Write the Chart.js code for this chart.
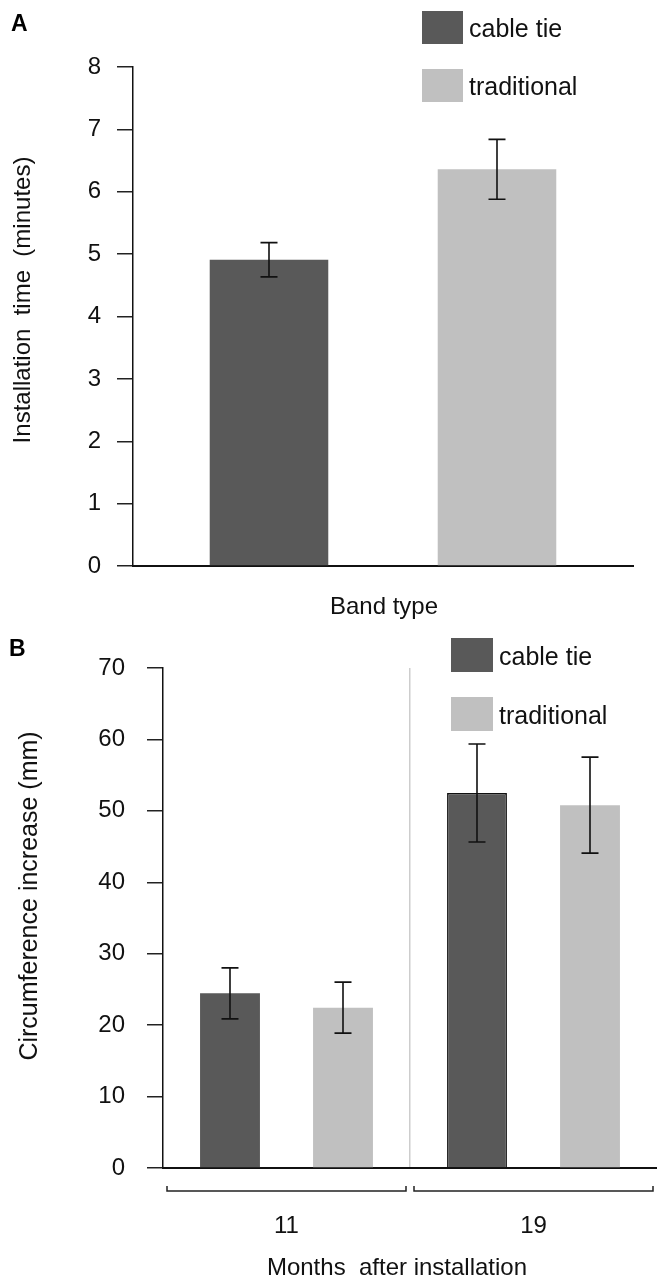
<!DOCTYPE html>
<html>
<head>
<meta charset="utf-8">
<script src="https://cdn.jsdelivr.net/npm/chart.js@4.4.1/dist/chart.umd.min.js"></script>
<style>
  html, body { margin: 0; padding: 0; background: #fff; }
  #wrap { position: relative; width: 657px; height: 1280px; background: #fff; }
  canvas { position: absolute; left: 0; }
</style>
</head>
<body>
<div id="wrap">
  <canvas id="chartA" width="657" height="630" style="top:0"></canvas>
  <canvas id="chartB" width="657" height="650" style="top:630px"></canvas>
</div>
<script>
// ---------- data ----------
const seriesNames = ['cable tie', 'traditional'];
const seriesColors = ['#595959', '#c0c0c0'];

// Panel A: installation time (minutes)
const bandCategories = [''];
const installCableTie = [4.91];
const installCableTieErr = [0.275];
const installTraditional = [6.36];
const installTraditionalErr = [0.48];

// Panel B: circumference increase (mm)
const monthCategories = ['11', '19'];
const circCableTie = [24.45, 52.5];
const circCableTieErr = [3.57, 6.86];
const circTraditional = [22.45, 50.8];
const circTraditionalErr = [3.57, 6.72];

// ---------- common ----------
const FONT = '"Liberation Sans", Arial, sans-serif';
Chart.defaults.font.family = FONT;
Chart.defaults.color = '#111';

function decorPlugin(cfg) {
  return {
    id: 'decor',
    afterDatasetsDraw(chart) {
      const ctx = chart.ctx, ys = chart.scales.y;
      ctx.save();
      ctx.strokeStyle = '#111';
      ctx.lineWidth = 1.6;
      chart.data.datasets.forEach((ds, i) => {
        const meta = chart.getDatasetMeta(i);
        meta.data.forEach((bar, j) => {
          const v = ds.data[j], e = ds.err[j];
          const yT = ys.getPixelForValue(v + e), yB = ys.getPixelForValue(v - e);
          const cw = 8.5;
          ctx.beginPath();
          ctx.moveTo(bar.x, yT); ctx.lineTo(bar.x, yB);
          ctx.moveTo(bar.x - cw, yT); ctx.lineTo(bar.x + cw, yT);
          ctx.moveTo(bar.x - cw, yB); ctx.lineTo(bar.x + cw, yB);
          ctx.stroke();
        });
      });
      ctx.restore();
    },
    afterDraw(chart) {
      const ctx = chart.ctx;
      ctx.save();
      // legend
      const L = cfg.legend;
      chart.data.datasets.forEach((ds, i) => {
        const top = L.y + i * L.step;
        ctx.fillStyle = ds.backgroundColor;
        ctx.fillRect(L.x, top, L.w, L.h);
        ctx.fillStyle = '#111';
        ctx.font = '25px ' + FONT;
        ctx.textAlign = 'left';
        ctx.textBaseline = 'middle';
        ctx.fillText(ds.label, L.x + L.w + 6, top + L.h / 2 + 3);
      });
      // panel letter
      ctx.fillStyle = '#000';
      ctx.font = 'bold 23px ' + FONT;
      ctx.textAlign = 'left';
      ctx.textBaseline = 'alphabetic';
      ctx.fillText(cfg.letter.text, cfg.letter.x, cfg.letter.y);
      // x title
      ctx.fillStyle = '#111';
      ctx.font = '24px ' + FONT;
      ctx.textAlign = 'center';
      ctx.fillText(cfg.xTitle.text, cfg.xTitle.x, cfg.xTitle.y);
      // y title
      ctx.save();
      ctx.font = cfg.yTitle.size + 'px ' + FONT;
      ctx.translate(cfg.yTitle.x, cfg.yTitle.y);
      ctx.rotate(-Math.PI / 2);
      ctx.textAlign = 'center';
      ctx.textBaseline = 'middle';
      ctx.fillText(cfg.yTitle.text, 0, 0);
      ctx.restore();
      // brackets under categories
      if (cfg.brackets) {
        const xs = chart.scales.x;
        const n = chart.data.labels.length;
        const half = (xs.right - xs.left) / n / 2;
        ctx.strokeStyle = '#222';
        ctx.lineWidth = 1.5;
        chart.data.labels.forEach((lab, i) => {
          const c = xs.getPixelForValue(i);
          const l = c - half + 4, r = Math.min(c + half - 4, chart.width - 1);
          const y = cfg.brackets.y;
          ctx.beginPath();
          ctx.moveTo(l, y - 5); ctx.lineTo(l, y); ctx.lineTo(r, y); ctx.lineTo(r, y - 5);
          ctx.stroke();
        });
      }
      ctx.restore();
    }
  };
}

function makeDatasets(a, aErr, b, bErr, borderA) {
  return [
    { label: seriesNames[0], data: a, err: aErr, backgroundColor: seriesColors[0],
      borderColor: '#111', borderWidth: borderA, borderSkipped: 'bottom',
      categoryPercentage: 0.912, barPercentage: 0.52 },
    { label: seriesNames[1], data: b, err: bErr, backgroundColor: seriesColors[1],
      borderWidth: 0, categoryPercentage: 0.912, barPercentage: 0.52 }
  ];
}

// ---------- Panel A ----------
new Chart(document.getElementById('chartA'), {
  type: 'bar',
  data: {
    labels: bandCategories,
    datasets: makeDatasets(installCableTie, installCableTieErr, installTraditional, installTraditionalErr, 0)
  },
  options: {
    responsive: false,
    animation: false,
    layout: { padding: { top: 67, right: 24, left: 0, bottom: 0 } },
    plugins: { legend: { display: false }, tooltip: { enabled: false } },
    scales: {
      x: {
        grid: { display: false },
        border: { display: true, color: '#111', width: 2 },
        ticks: { display: false },
        afterFit(s) { s.height = 64; }
      },
      y: {
        min: 0, max: 8,
        ticks: { stepSize: 1, padding: 16, font: { size: 24 }, color: '#111' },
        grid: { drawOnChartArea: false, drawTicks: true, tickLength: 16, color: '#222', lineWidth: 1.5 },
        border: { display: true, color: '#111', width: 1.5 },
        afterFit(s) { s.width = 133; }
      }
    }
  },
  plugins: [decorPlugin({
    legend: { x: 422, y: 11, w: 41, h: 33, step: 58 },
    letter: { text: 'A', x: 11, y: 31 },
    xTitle: { text: 'Band type', x: 384, y: 614 },
    yTitle: { text: 'Installation  time  (minutes)', x: 23, y: 300, size: 24 }
  })]
});

// ---------- Panel B ----------
new Chart(document.getElementById('chartB'), {
  type: 'bar',
  data: {
    labels: monthCategories,
    datasets: (() => {
      const d = makeDatasets(circCableTie, circCableTieErr, circTraditional, circTraditionalErr, [0, 1.5]);
      d.forEach(ds => { ds.categoryPercentage = 0.915; ds.barPercentage = 0.53; });
      return d;
    })()
  },
  options: {
    responsive: false,
    animation: false,
    layout: { padding: { top: 38, right: 0, left: 0, bottom: 0 } },
    plugins: { legend: { display: false }, tooltip: { enabled: false } },
    scales: {
      x: {
        offset: true,
        grid: {
          display: true, offset: true, drawTicks: false, drawOnChartArea: true,
          lineWidth: 1.5,
          color: (c) => (c.index === 1 ? '#cdcdcd' : 'rgba(0,0,0,0)')
        },
        border: { display: true, color: '#111', width: 2 },
        ticks: { padding: 44, font: { size: 24 }, color: '#111' },
        afterFit(s) { s.height = 112; }
      },
      y: {
        min: 0, max: 70,
        ticks: { stepSize: 10, padding: 22, font: { size: 24 }, color: '#111' },
        grid: { drawOnChartArea: false, drawTicks: true, tickLength: 16, color: '#222', lineWidth: 1.5 },
        border: { display: true, color: '#111', width: 1.5 },
        afterFit(s) { s.width = 163; }
      }
    }
  },
  plugins: [decorPlugin({
    legend: { x: 451, y: 8, w: 42, h: 34, step: 59 },
    letter: { text: 'B', x: 9, y: 26 },
    xTitle: { text: 'Months  after installation', x: 397, y: 645 },
    yTitle: { text: 'Circumference increase (mm)', x: 30, y: 266, size: 25 },
    brackets: { y: 561 }
  })]
});
</script>
</body>
</html>
